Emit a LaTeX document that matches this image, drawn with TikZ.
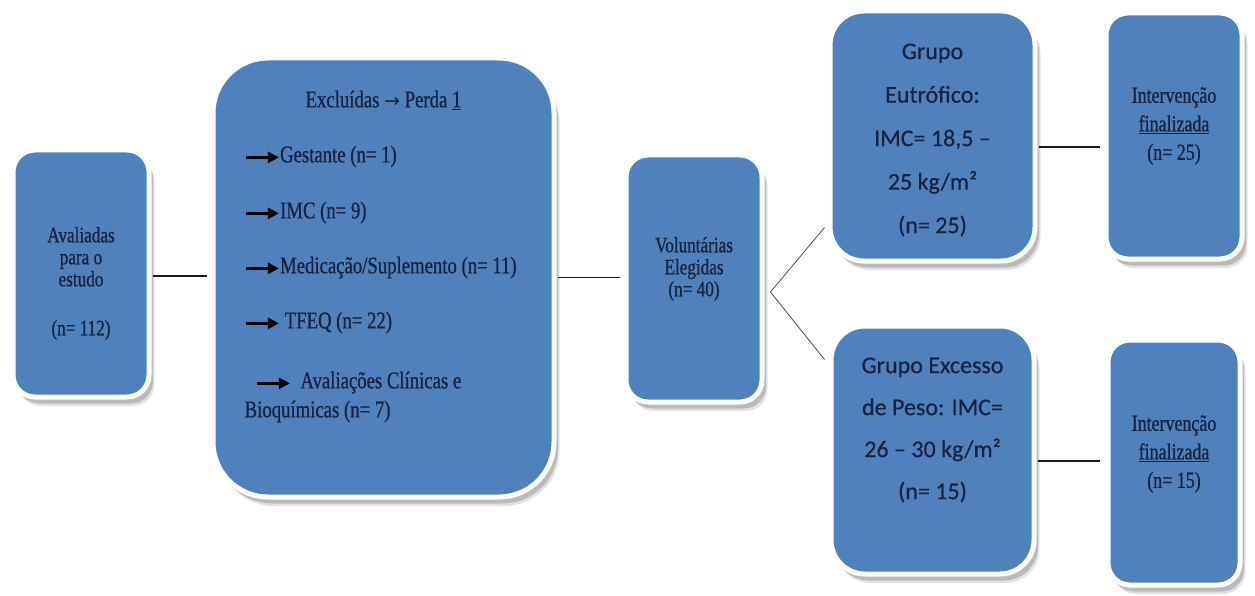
\documentclass[tikz,border=0pt]{standalone}
\usepackage{fontspec}
\setmainfont{Liberation Serif}[FakeStretch=0.78,FakeBold=0.7]
\newfontfamily\grupofont{Carlito}[FakeBold=0.4]
\newfontfamily\arrowfont{DejaVu Sans}
\usetikzlibrary{arrows.meta,shadows}

\definecolor{boxblue}{HTML}{4F81BD}
\definecolor{boxink}{HTML}{16223E}

\newcommand{\itemarrow}{\tikz[baseline=-5pt]\draw[black,line width=2.4pt,-{Triangle[length=11pt,width=11pt]}] (0pt,0pt) -- (33pt,0pt);}

\tikzset{
  box/.style={draw=white, line width=5pt, fill=boxblue, inner sep=0pt,
    drop shadow={shadow xshift=5.5pt, shadow yshift=-9pt, fill=gray!45},
    drop shadow={shadow xshift=4pt, shadow yshift=-6.5pt, fill=gray!85}},
  serif/.style={text=boxink, align=center, inner sep=0pt},
  calibri/.style={text=boxink, align=center, inner sep=0pt, font=\grupofont\fontsize{24}{43.5}\selectfont},
  conn/.style={line width=1.3pt, black!90, shorten <=1pt},
  forkline/.style={line width=0.8pt, black!70}
}

\begin{document}
\begin{tikzpicture}[x=1pt, y=-1pt]
    \useasboundingbox (0,0) rectangle (1255,596);

    \node[box, rounded corners=22pt, minimum width=136pt, minimum height=247pt] (aval) at (81,273.5) {};
    \node[box, rounded corners=55pt, minimum width=341pt, minimum height=439pt] (excl) at (383.5,277.5) {};
    \node[box, rounded corners=22pt, minimum width=136pt, minimum height=247pt] (vol) at (694,278.5) {};
    \node[box, rounded corners=34pt, minimum width=205pt, minimum height=250pt] (eutr) at (932.5,136) {};
    \node[box, rounded corners=34pt, minimum width=203pt, minimum height=248pt] (exc) at (932.5,450) {};
    \node[box, rounded corners=22pt, minimum width=136pt, minimum height=246pt] (fim25) at (1174,136) {};
    \node[box, rounded corners=22pt, minimum width=132pt, minimum height=245pt] (fim15) at (1174,462.5) {};

    \node[serif, font=\fontsize{22}{22}\selectfont] (avaltxt) at ([yshift=-10pt]aval.center)
        {Avaliadas\\para o\\estudo\\[27pt](n= 112)};
    \node[serif, font=\fontsize{24}{29}\selectfont] (excltit) at ([yshift=177.5pt]excl.center)
        {Excluídas {\arrowfont\fontsize{19}{29}\selectfont→} Perda \underline{1}};
    \node[serif, align=left, anchor=north west, font=\fontsize{24}{29}\selectfont] (excllist)
        at ([xshift=34pt,yshift=-90pt]excl.north west)
        {\itemarrow Gestante (n= 1)\\[27pt]
         \itemarrow IMC (n= 9)\\[26pt]
         \itemarrow Medicação/Suplemento (n= 11)\\[26pt]
         \itemarrow\ TFEQ (n= 22)\\[31pt]
         \hspace*{11pt}\itemarrow\ \ Avaliações Clínicas e\\
         Bioquímicas (n= 7)};
    \node[serif, font=\fontsize{22}{22}\selectfont] (voltxt) at ([yshift=9.5pt]vol.center)
        {Voluntárias\\Elegidas\\(n= 40)};
    \node[calibri] (eutrtxt) at ([yshift=-4pt]eutr.center)
        {Grupo\\Eutrófico:\\IMC= 18,5 –\\25 kg/m²\\(n= 25)};
    \node[calibri, font=\grupofont\fontsize{24}{42}\selectfont] (exctxt) at ([yshift=20pt]exc.center)
        {Grupo Excesso\\de Peso: IMC=\\26 – 30 kg/m²\\(n= 15)};
    \node[serif, font=\fontsize{23}{28.5}\selectfont] (fim25txt) at ([yshift=10pt]fim25.center)
        {Intervenção\\\underline{finalizada}\\(n= 25)};
    \node[serif, font=\fontsize{23}{28.5}\selectfont] (fim15txt) at ([yshift=8.5pt]fim15.center)
        {Intervenção\\\underline{finalizada}\\(n= 15)};

    \draw[conn, shorten >=4pt] ([yshift=-2.5pt]aval.east) -- ([yshift=-2.5pt]aval.east -| excl.west);
    \draw[conn, shorten >=4pt] (excl.east) -- (excl.east -| vol.west);
    \coordinate (split) at ([xshift=6pt,yshift=-13.5pt]vol.east);
    \draw[forkline] (split) -- ([xshift=-3pt,yshift=36pt]eutr.south west);
    \draw[forkline] (split) -- ([xshift=-4pt,yshift=-36pt]exc.north west);
    \draw[conn, shorten >=4pt] ([yshift=-11pt]eutr.east) -- ([yshift=-11pt]eutr.east -| fim25.west);
    \draw[conn, shorten >=6pt] ([yshift=-11pt]exc.east) -- ([yshift=-11pt]exc.east -| fim15.west);
\end{tikzpicture}
\end{document}
